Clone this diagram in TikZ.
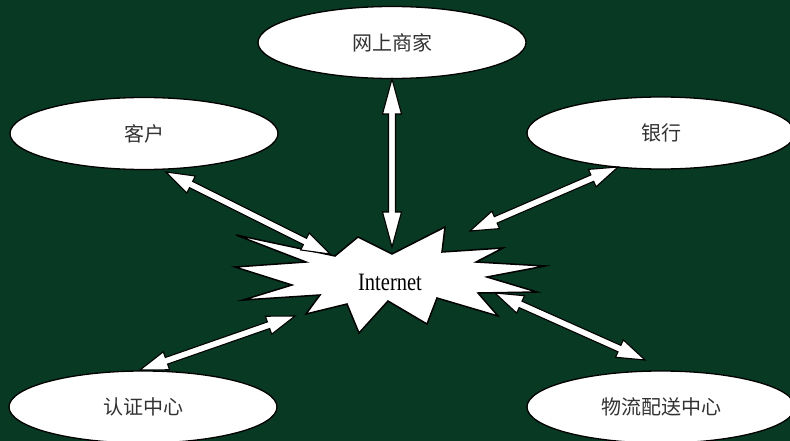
\documentclass[tikz,border=0pt]{standalone}
\usepackage{fontspec}
\setmainfont{Liberation Serif}
\newfontfamily\cjk{Noto Sans CJK SC}
\usetikzlibrary{shapes.geometric,calc}
\definecolor{bg}{RGB}{7,57,35}
\definecolor{txt}{RGB}{50,50,50}
\newcommand\arrHW{9.5pt}
\newcommand\arrSW{3.5pt}
\newcommand\dblarrow[3]{%
  \coordinate (pa) at ($(#1)!#3!(#2)$);
  \coordinate (pb) at ($(#2)!#3!(#1)$);
  \filldraw[arrowbody] (#1) -- ($(pa)!\arrHW!90:(#2)$) -- ($(pa)!\arrSW!90:(#2)$)
    -- ($(pb)!\arrSW!-90:(#1)$) -- ($(pb)!\arrHW!-90:(#1)$) -- (#2)
    -- ($(pb)!\arrHW!90:(#1)$) -- ($(pb)!\arrSW!90:(#1)$)
    -- ($(pa)!\arrSW!-90:(#2)$) -- ($(pa)!\arrHW!-90:(#2)$) -- cycle;}
\begin{document}
\begin{tikzpicture}[x=1pt,y=-1pt,
  party/.style={ellipse,draw=black,line width=1.3pt,fill=white,
    minimum width=268pt,minimum height=72pt,inner sep=0pt,
    font=\cjk\fontsize{20}{20}\selectfont,text=txt},
  arrowbody/.style={fill=white,draw=black,line width=1.1pt,line join=miter},
  starbody/.style={fill=white,draw=black,line width=1.5pt,line join=miter}]
\fill[bg] (0,0) rectangle (790,441);
\useasboundingbox (0,0) rectangle (790,441);

\node[party] (shop) at (392,42.5) {网上商家};
\node[party] (cust) at (144,133.5) {客户};
\node[party] (bank) at (661,133) {银行};
\node[party] (ca) at (143,407) {认证中心};
\node[party] (logi) at (661,407) {物流配送中心};

\draw[starbody] (236,235) -- (335,256) -- (358,237) -- (392,254) -- (445,227)
  -- (442,252) -- (503,248) -- (476,262) -- (545,266) -- (487,277)
  -- (537,292) -- (478,293) -- (498,316) -- (437,298) -- (427,324)
  -- (388,301) -- (359,333) -- (347,304) -- (306,314) -- (320,295)
  -- (243,300) -- (292,285) -- (235,267) -- (306,262) -- cycle;
\node (net) at (390,282) {\fontsize{25}{25}\selectfont\scalebox{0.82}[1]{Internet}};

\coordinate (c1) at (166,172);  \coordinate (n1) at (330,254);
\coordinate (c2) at (392,79);   \coordinate (n2) at (392,247);
\coordinate (c3) at (618,167);  \coordinate (n3) at (470,231);
\coordinate (c4) at (140,370);  \coordinate (n4) at (295,316);
\coordinate (c5) at (645,360);  \coordinate (n5) at (495,293);

\dblarrow{c1}{n1}{28pt}
\dblarrow{c2}{n2}{35pt}
\dblarrow{c3}{n3}{28pt}
\dblarrow{c4}{n4}{28pt}
\dblarrow{c5}{n5}{28pt}
\end{tikzpicture}
\end{document}
